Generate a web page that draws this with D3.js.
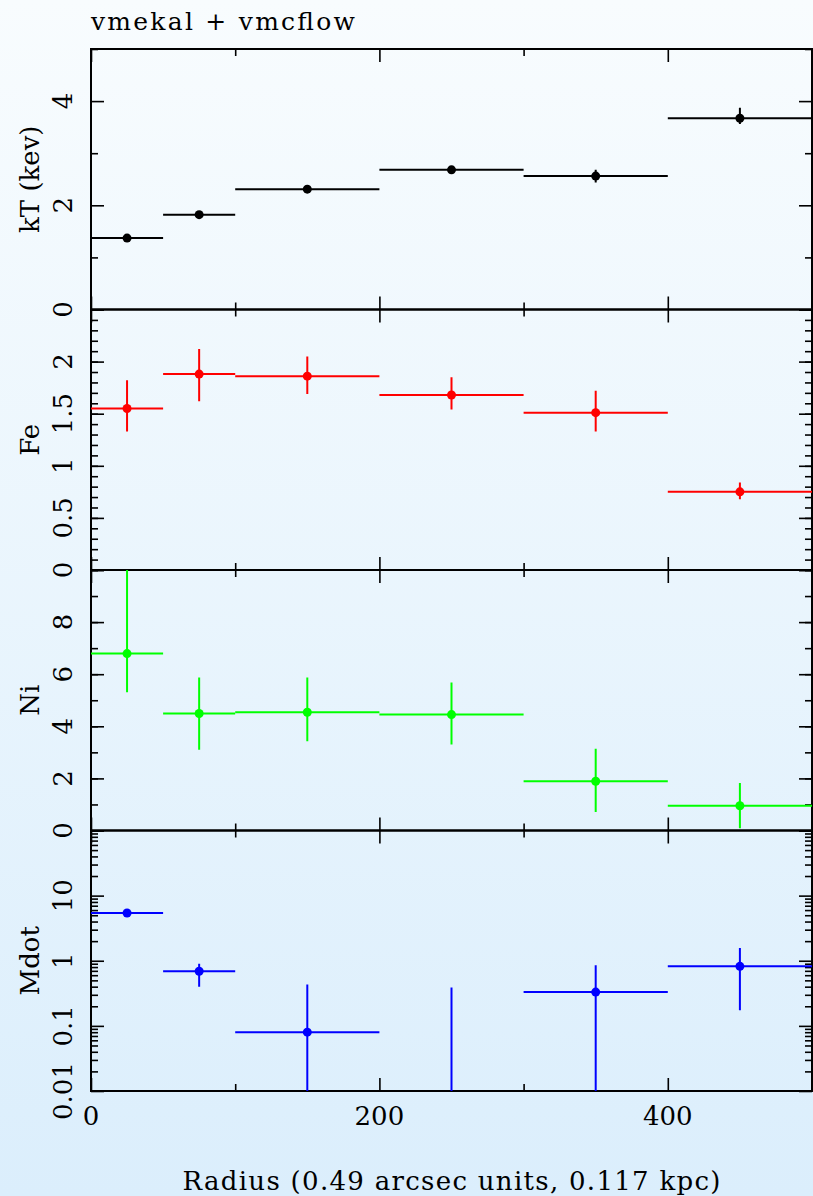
<!DOCTYPE html>
<html>
<head>
<meta charset="utf-8">
<script src="https://cdn.jsdelivr.net/npm/d3@7"></script>
<style>
  html, body { margin: 0; padding: 0; }
  svg { display: block; }
  text { font-family: "DejaVu Serif", "Liberation Serif", serif; fill: #000; }
</style>
</head>
<body>
<svg id="chart" width="813" height="1196"></svg>
<script>
// Radial bins (0.49 arcsec units) and the fitted values per annulus
const binEdges = [0, 50, 100, 200, 300, 400, 500];
const radiusCentres = [25, 75, 150, 250, 350, 450];

const kT     = [1.37, 1.82, 2.31, 2.68, 2.56, 3.67];
const kTLow  = [1.33, 1.78, 2.27, 2.64, 2.44, 3.56];
const kTHigh = [1.41, 1.86, 2.35, 2.72, 2.68, 3.87];

const fe     = [1.55, 1.88, 1.86, 1.68, 1.51, 0.75];
const feLow  = [1.33, 1.62, 1.69, 1.54, 1.33, 0.68];
const feHigh = [1.82, 2.12, 2.05, 1.85, 1.72, 0.84];

const ni     = [6.79, 4.49, 4.54, 4.45, 1.89, 0.95];
const niLow  = [5.31, 3.10, 3.43, 3.30, 0.71, 0.09];
const niHigh = [10.0, 5.87, 5.87, 5.68, 3.14, 1.82];

const mdot     = [5.4, 0.69, 0.080, 0.004, 0.33, 0.82];
const mdotLow  = [5.0, 0.40, 0.001, 0.001, 0.001, 0.173];
const mdotHigh = [5.8, 0.90, 0.43, 0.39, 0.85, 1.57];

const xMajorTicks = [0, 200, 400];
const xMinorTicks = [100, 300, 500];

const kTTickLabels   = [0, 2, 4];
const feTickLabels   = [0, 0.5, 1, 1.5, 2];
const niTickLabels   = [0, 2, 4, 6, 8];
const mdotTickLabels = [0.01, 0.1, 1, 10];

const title  = "vmekal + vmcflow";
const xTitle = "Radius (0.49 arcsec units, 0.117 kpc)";

// ---- layout ----
const W = 813, H = 1196;
const plotLeft = 91, plotRight = 812, plotTop = 49, plotBottom = 1091;
const nPanels = 4;
const panelH = (plotBottom - plotTop) / nPanels;
const majorLen = 13, minorLen = 7;
const labelSize = 26;

const svg = d3.select("#chart");

// soft vertical background gradient
const defs = svg.append("defs");
const grad = defs.append("linearGradient").attr("id", "bg")
  .attr("x1", 0).attr("y1", 0).attr("x2", 0).attr("y2", 1);
grad.append("stop").attr("offset", "0%").attr("stop-color", "#f8fcfe");
grad.append("stop").attr("offset", "100%").attr("stop-color", "#dbeefc");
svg.append("rect").attr("width", W).attr("height", H).attr("fill", "url(#bg)");

const x = d3.scaleLinear().domain([0, 500]).range([plotLeft, plotRight]);

const range = (a, b, step) => d3.range(a, b + step / 2, step).map(v => +v.toFixed(6));
const logMinor = [];
[0.01, 0.1, 1, 10].forEach(d => { for (let k = 2; k <= 9; k++) logMinor.push(+(d * k).toPrecision(6)); });

const panels = [
  { label: "kT (kev)", colour: "#000000", v: kT, lo: kTLow, hi: kTHigh,
    scale: d3.scaleLinear().domain([0, 5]),
    major: kTTickLabels, minor: [1, 3, 5], labels: kTTickLabels },
  { label: "Fe", colour: "#ff0000", v: fe, lo: feLow, hi: feHigh,
    scale: d3.scaleLinear().domain([0, 2.5]),
    major: range(0, 2.5, 0.5), minor: range(0, 2.5, 0.1), labels: feTickLabels },
  { label: "Ni", colour: "#00ff00", v: ni, lo: niLow, hi: niHigh,
    scale: d3.scaleLinear().domain([0, 10]),
    major: range(0, 10, 2), minor: range(0, 10, 1), labels: niTickLabels },
  { label: "Mdot", colour: "#0000ff", v: mdot, lo: mdotLow, hi: mdotHigh,
    scale: d3.scaleLog().domain([0.01, 100]),
    major: [0.01, 0.1, 1, 10, 100], minor: logMinor, labels: mdotTickLabels }
];

function tickGroup(g, axis) {
  g.call(axis);
  g.select(".domain").remove();
  g.selectAll(".tick line").attr("stroke", "#000").attr("stroke-width", 1.6);
  g.selectAll(".tick text").remove();
}

panels.forEach((p, i) => {
  const y0 = plotTop + i * panelH, y1 = y0 + panelH;
  const y = p.scale.range([y1, y0]);
  const g = svg.append("g");

  // clip region for the data marks
  const clipId = "clip" + i;
  defs.append("clipPath").attr("id", clipId)
    .append("rect").attr("x", plotLeft).attr("y", y0).attr("width", plotRight - plotLeft).attr("height", panelH);

  // y ticks, left and right, pointing inward
  [[p.minor, minorLen], [p.major, majorLen]].forEach(([vals, len]) => {
    g.append("g").attr("transform", `translate(${plotLeft},0)`)
      .call(gg => tickGroup(gg, d3.axisLeft(y).tickValues(vals).tickSize(-len)));
    g.append("g").attr("transform", `translate(${plotRight},0)`)
      .call(gg => tickGroup(gg, d3.axisRight(y).tickValues(vals).tickSize(-len)));
  });
  // x ticks, top and bottom of each panel
  [[xMinorTicks, minorLen], [xMajorTicks, majorLen]].forEach(([vals, len]) => {
    g.append("g").attr("transform", `translate(0,${y0})`)
      .call(gg => tickGroup(gg, d3.axisTop(x).tickValues(vals).tickSize(-len)));
    g.append("g").attr("transform", `translate(0,${y1})`)
      .call(gg => tickGroup(gg, d3.axisBottom(x).tickValues(vals).tickSize(-len)));
  });

  // frame
  g.append("rect").attr("x", plotLeft).attr("y", y0).attr("width", plotRight - plotLeft).attr("height", panelH)
    .attr("fill", "none").attr("stroke", "#000").attr("stroke-width", 2);

  // y tick labels (rotated, reading upward)
  g.selectAll("text.ytl").data(p.labels).join("text")
    .attr("class", "ytl")
    .attr("transform", d => `translate(72,${y(d)}) rotate(-90)`)
    .attr("text-anchor", "middle")
    .attr("font-size", labelSize)
    .text(d => String(d));

  // y axis title
  g.append("text")
    .attr("transform", `translate(39,${(y0 + y1) / 2}) rotate(-90)`)
    .attr("text-anchor", "middle")
    .attr("font-size", labelSize)
    .text(p.label);

  // data: bin-width bars, error bars and points
  const rows = p.v.map((v, j) => ({ v, lo: p.lo[j], hi: p.hi[j], c: radiusCentres[j], a: binEdges[j], b: binEdges[j + 1] }));
  const dg = g.append("g").attr("clip-path", `url(#${clipId})`)
    .attr("stroke", p.colour).attr("stroke-width", 2).attr("fill", p.colour);
  dg.selectAll("line.xb").data(rows).join("line").attr("class", "xb")
    .attr("x1", d => x(d.a)).attr("x2", d => x(d.b))
    .attr("y1", d => y(d.v)).attr("y2", d => y(d.v));
  dg.selectAll("line.yb").data(rows).join("line").attr("class", "yb")
    .attr("x1", d => x(d.c)).attr("x2", d => x(d.c))
    .attr("y1", d => y(d.lo)).attr("y2", d => y(d.hi));
  dg.selectAll("circle").data(rows).join("circle")
    .attr("cx", d => x(d.c)).attr("cy", d => y(d.v)).attr("r", 4.5).attr("stroke", "none");
});

// x tick labels under the lowest panel
svg.selectAll("text.xtl").data(xMajorTicks).join("text")
  .attr("class", "xtl")
  .attr("x", d => x(d)).attr("y", 1125)
  .attr("text-anchor", "middle")
  .attr("font-size", labelSize)
  .text(d => d);

// axis title and plot title
svg.append("text")
  .attr("x", (plotLeft + plotRight) / 2).attr("y", 1190)
  .attr("text-anchor", "middle")
  .attr("font-size", labelSize)
  .attr("textLength", 538).attr("lengthAdjust", "spacing")
  .text(xTitle);

svg.append("text")
  .attr("x", plotLeft).attr("y", 30)
  .attr("font-size", 25)
  .attr("textLength", 264).attr("lengthAdjust", "spacing")
  .text(title);
</script>
</body>
</html>
